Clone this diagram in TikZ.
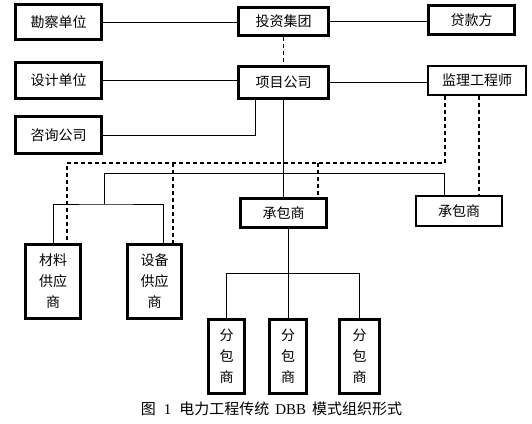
\documentclass[tikz,border=0pt]{standalone}
\usepackage{fontspec}
\setmainfont{Liberation Serif}
\newfontfamily\cjk{Noto Sans CJK SC}
\begin{document}
\begin{tikzpicture}[x=1pt,y=-1pt,
  box/.style={draw, line width=2.6pt, inner sep=0pt, align=center,
    font=\cjk\fontsize{14}{21}\selectfont},
  thinbox/.style={box, line width=2pt},
  conn/.style={line width=0.9pt},
  dsh/.style={line width=1.5pt, dash pattern=on 4pt off 3pt}]
\useasboundingbox (0,0) rectangle (532,423);
% top row
\node[box, minimum width=86.4pt, minimum height=35.4pt] (kc) at (58.5,22) {勘察单位};
\node[box, minimum width=90.4pt, minimum height=28.4pt] (tz) at (283.5,21.5) {投资集团};
\node[box, minimum width=86.4pt, minimum height=29.4pt] (dk) at (471.5,20) {贷款方};
% second row
\node[box, minimum width=86.4pt, minimum height=36.4pt] (sj) at (58.5,80.5) {设计单位};
\node[box, minimum width=90.4pt, minimum height=32.4pt] (xm) at (283.5,82.5) {项目公司};
\node[thinbox, minimum width=98pt, minimum height=29pt] (jl) at (477,80.5) {监理工程师};
\node[box, minimum width=86.4pt, minimum height=37.4pt] (zx) at (58.5,135) {咨询公司};
% contractors
\node[box, minimum width=86.4pt, minimum height=29.4pt] (cb1) at (283.5,213) {承包商};
\node[thinbox, minimum width=86pt, minimum height=30pt] (cb2) at (459,211) {承包商};
% suppliers
\node[box, minimum width=55.4pt, minimum height=74.4pt] (cl) at (53,281.5) {材料\\供应\\商};
\node[box, minimum width=54.4pt, minimum height=74.4pt] (sb) at (154.5,281.5) {设备\\供应\\商};
% subcontractors
\node[box, minimum width=36.4pt, minimum height=74.4pt] (fb1) at (226.5,356.5) {分\\包\\商};
\node[box, minimum width=37.4pt, minimum height=74.4pt] (fb2) at (288,356.5) {分\\包\\商};
\node[box, minimum width=40.4pt, minimum height=74.4pt] (fb3) at (359.5,356.5) {分\\包\\商};
% caption
\node[inner sep=0pt, font=\fontsize{15}{17}\selectfont] (cap) at (271.5,409)
  {{\cjk 图}\hspace{8pt}1\hspace{8pt}{\cjk 电力工程传统}\hspace{6pt}DBB\hspace{6pt}{\cjk 模式组织形式}};

% helper coordinates
\coordinate (zxup) at ([xshift=-28.5pt]xm.south);
\coordinate (s1) at (104,173);
\coordinate (s2) at (104,204);
\coordinate (cb2s) at ([xshift=-15pt]cb2.north);
\coordinate (sbs) at ([xshift=8.5pt]sb.north);
\coordinate (jld1) at ([xshift=-32pt]jl.south);
\coordinate (d1) at (67,163);
\coordinate (cld) at ([xshift=14pt]cl.north);
\coordinate (sbd) at ([xshift=18.5pt]sb.north);
\coordinate (cb1d) at ([xshift=34.5pt]cb1.north);
\coordinate (cb2d) at ([xshift=20pt]cb2.north);
\coordinate (cb1s) at ([xshift=4.5pt]cb1.south);
\coordinate (bus3) at (0,273);

% connectors
\draw[conn] (kc.east) -- (kc.east -| tz.west);
\draw[conn] (tz.east) -- (tz.east -| dk.west);
\draw[dsh] (tz.south) -- (xm.north);
\draw[conn] (sj.east) -- (sj.east -| xm.west);
\draw[conn] (xm.east) -- (xm.east -| jl.west);
\draw[conn] (zx.east) -| (zxup);
\draw[conn] (xm.south) -- (cb1.north);
\draw[conn] (cb2s) |- (s1) -- (s2);
\draw[conn] (cl.north) |- (s2) -| (sbs);
\draw[dsh] (jld1) |- (d1) -- (cld);
\draw[dsh] (sbd |- d1) -- (sbd);
\draw[dsh] (cb1d |- d1) -- (cb1d);
\draw[dsh] (cb2d |- jl.south) -- (cb2d);
\draw[conn] (cb1s) -- (cb1s |- bus3);
\draw[conn] (fb1.north) -- (fb1.north |- bus3) -- (fb3.north |- bus3) -- (fb3.north);
\draw[conn] (fb2.north) -- (fb2.north |- bus3);
\end{tikzpicture}
\end{document}
